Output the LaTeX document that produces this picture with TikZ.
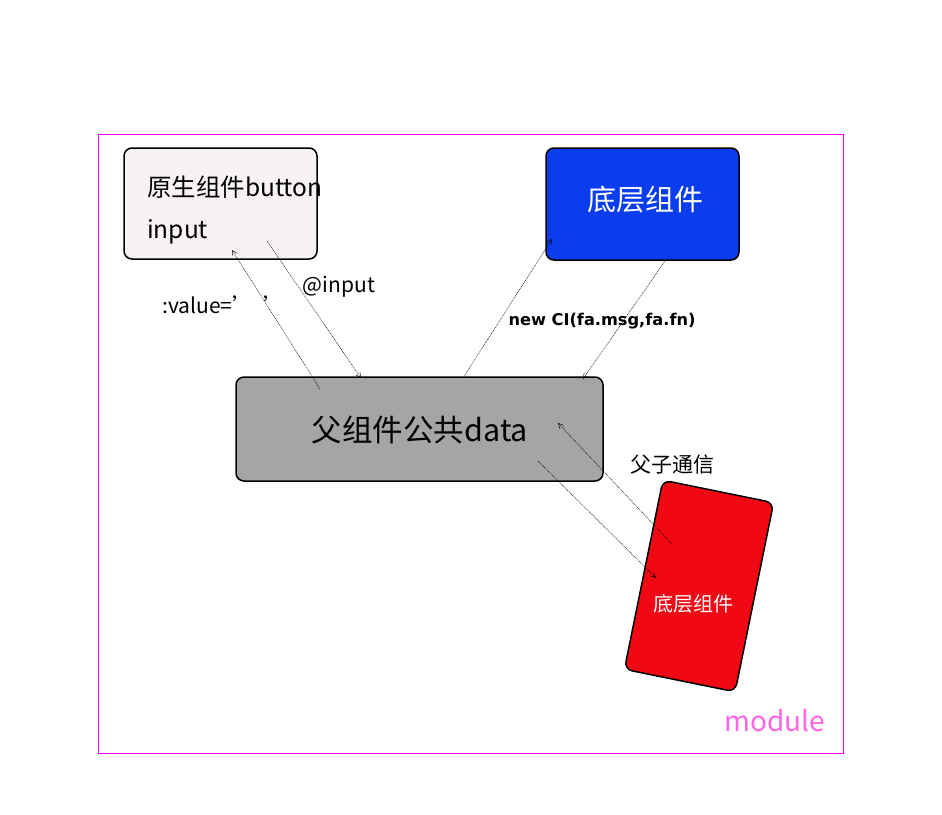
\documentclass[tikz,border=0pt]{standalone}
\usepackage{fontspec}
\setmainfont{Noto Sans CJK SC}
\newfontfamily\dejab{DejaVu Sans}
\usetikzlibrary{arrows.meta}
\definecolor{lightc}{HTML}{F7F3F2}
\definecolor{bluec}{HTML}{0A3CF0}
\definecolor{greyc}{HTML}{A6A4A4}
\definecolor{redc}{HTML}{F00814}
\definecolor{framec}{HTML}{FF00FF}
\definecolor{modc}{HTML}{FF66E6}
\tikzset{
  boxs/.style={draw=black, line width=1.5pt, rounded corners=8pt, inner sep=0pt},
  conn/.style={line width=0.45pt, dash pattern=on 1pt off 0.8pt, -{Straight Barb[length=5pt,width=5pt]}},
  lbl/.style={inner sep=0pt, font=\fontsize{21}{24}\selectfont}
}
\begin{document}
\begin{tikzpicture}[x=1pt,y=-1pt]
\useasboundingbox (0,0) rectangle (942,814);
\draw[framec, line width=0.8pt] (98,134) rectangle (843,753);
% boxes
\node[boxs, fill=lightc, minimum width=193pt, minimum height=111pt] (tl) at (220.5,203.5) {};
\node[boxs, fill=bluec, minimum width=193pt, minimum height=112pt] (bl) at (642.5,204) {};
\node[boxs, fill=greyc, minimum width=367pt, minimum height=104pt] (gr) at (419.5,429) {};
\node[boxs, fill=redc, minimum width=113pt, minimum height=193pt, rotate=-11.5] (rd) at (699,586) {};
% texts
\node[lbl, anchor=west, font=\fontsize{24.5}{28}\selectfont] (t1) at (147,187) {原生组件button};
\node[lbl, anchor=west, font=\fontsize{24.5}{28}\selectfont] (t2) at (147,232) {input};
\node[lbl, text=white, font=\fontsize{29}{32}\selectfont] (t3) at (645,200) {底层组件};
\node[lbl, font=\fontsize{30.5}{34}\selectfont] (t4) at (420,430) {父组件公共data};
\node[lbl, text=white, font=\fontsize{20}{24}\selectfont] (t5) at (693,604) {底层组件};
\node[lbl, font=\fontsize{21}{24}\selectfont] (t6) at (672,465) {父子通信};
\node[lbl, anchor=west] (t7) at (162,305) {:value=’\,\,\,’};
\node[lbl] (t8) at (339,287) {@input};
\node[lbl, font=\dejab\bfseries\fontsize{16.2}{19}\selectfont] (t9) at (602,321) {new CI(fa.msg,fa.fn)};
\node[lbl, text=modc, font=\fontsize{28}{31}\selectfont] (t10) at (775,721) {module};
% connector ends
\coordinate (a1s) at (320,389);
\coordinate (a1e) at (232,250);
\coordinate (a2s) at (267,241);
\coordinate (a2e) at (361,378);
\coordinate (a3s) at (463,378);
\coordinate (a3e) at (552,239);
\coordinate (a4s) at (665,261);
\coordinate (a4e) at (583,379);
\coordinate (a5s) at (671,543);
\coordinate (a5e) at (558,423);
\coordinate (a6s) at (538,461);
\coordinate (a6e) at (656,578);
\draw[conn] (a1s) -- (a1e);
\draw[conn] (a2s) -- (a2e);
\draw[conn] (a3s) -- (a3e);
\draw[conn] (a4s) -- (a4e);
\draw[conn] (a5s) -- (a5e);
\draw[conn] (a6s) -- (a6e);
\end{tikzpicture}
\end{document}
